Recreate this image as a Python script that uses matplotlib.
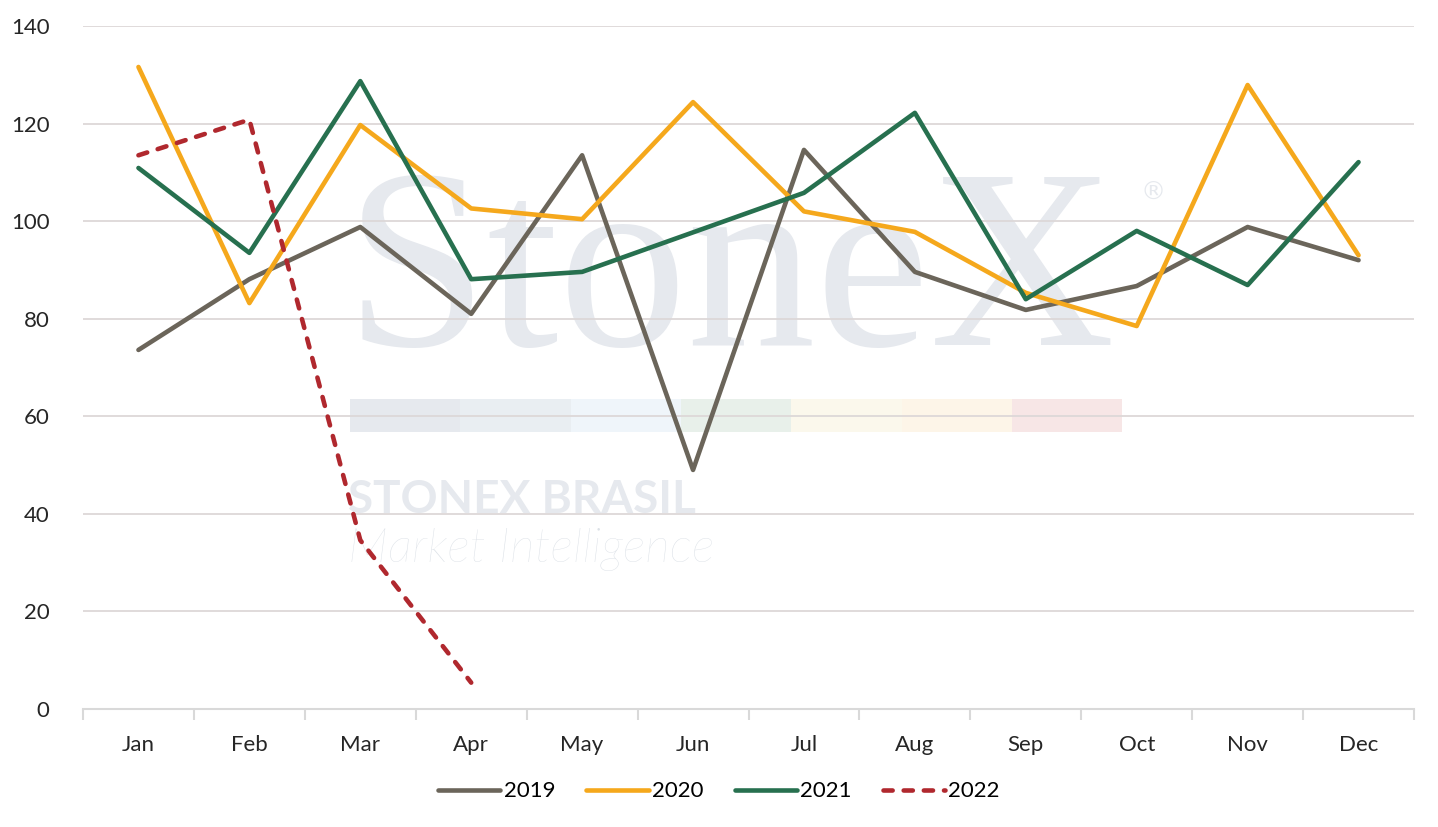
import numpy as np
import matplotlib
matplotlib.use("Agg")
import matplotlib.pyplot as plt
from matplotlib.patches import Rectangle

months = ["Jan", "Feb", "Mar", "Apr", "May", "Jun", "Jul", "Aug", "Sep", "Oct", "Nov", "Dec"]
y2019 = [73.6, 88.1, 98.8, 81.0, 113.5, 49.0, 114.6, 89.6, 81.8, 86.7, 98.8, 92.0]
y2020 = [131.6, 83.2, 119.7, 102.6, 100.4, 124.4, 102.0, 97.8, 85.3, 78.5, 127.9, 93.0]
y2021 = [110.9, 93.5, 128.7, 88.1, 89.6, 97.7, 105.8, 122.2, 84.0, 98.0, 86.9, 112.1]
y2022 = [113.5, 120.8, 34.6, 5.4]
yticks = [0, 20, 40, 60, 80, 100, 120, 140]

plt.rcParams["font.family"] = ["Lato", "DejaVu Sans"]

fig = plt.figure(figsize=(14.38, 8.27), dpi=100)
ax = fig.add_axes([83 / 1438, 118 / 827, 1331 / 1438, 683 / 827])

# faint StoneX watermark, placed in axes fraction (from pixel positions)
def px(xp, yp):
    return (xp - 83) / 1331, (709 - yp) / 683

wm = "#e6e9ee"
ax.text(*px(345, 345), "StoneX", transform=ax.transAxes, fontsize=185,
        family="Liberation Serif", color=wm, ha="left", va="baseline", zorder=0.1)
ax.text(*px(1140, 200), "®", transform=ax.transAxes, fontsize=18,
        family="DejaVu Sans", color=wm, ha="left", va="baseline", zorder=0.1)
bar_cols = ["#e6e9ee", "#e9eef2", "#eff5fa", "#e8f0ea", "#fbf8ec", "#fdf5e8", "#f7e6e6"]
for i, c in enumerate(bar_cols):
    x0, y0 = px(350 + i * 110.3, 432)
    ax.add_patch(Rectangle((x0, y0), 110.3 / 1331, 33 / 683, transform=ax.transAxes,
                           facecolor=c, edgecolor="none", zorder=0.1))
ax.text(*px(348, 513), "STONEX BRASIL", transform=ax.transAxes, fontsize=33,
        fontweight="bold", color=wm, ha="left", va="baseline", zorder=0.1)
ax.text(*px(348, 562), "Market Intelligence", transform=ax.transAxes, fontsize=35,
        fontstyle="italic", fontweight="light", color="#dce1e7", ha="left",
        va="baseline", zorder=0.1)

x = np.arange(len(months))
lw = 3.3
ax.plot(x, y2019, color="#6b655a", lw=lw, label="2019", solid_capstyle="round", zorder=3)
ax.plot(x, y2020, color="#f5a81c", lw=lw, label="2020", solid_capstyle="round", zorder=3)
ax.plot(x, y2021, color="#27704f", lw=lw, label="2021", solid_capstyle="round", zorder=3)
ax.plot(x[:len(y2022)], y2022, color="#b0282e", lw=lw, label="2022",
        linestyle=(0, (2.0, 2.4)), dash_capstyle="round", zorder=3)

ax.set_xlim(-0.5, 11.5)
ax.set_ylim(0, 140)
ax.set_yticks(yticks)
ax.set_xticks(x)
ax.set_xticklabels(months)
ax.set_xticks(np.arange(-0.5, 12, 1), minor=True)
ax.tick_params(axis="x", which="major", length=0, pad=19, labelsize=16, labelcolor="#262626")
ax.tick_params(axis="x", which="minor", length=8, width=1.5, color="#d9d9d9")
ax.tick_params(axis="y", length=0, pad=24, labelsize=16, labelcolor="#262626")
ax.yaxis.grid(True, color="#ddd8d8", lw=1.3)
ax.set_axisbelow(True)
for s in ["top", "right", "left"]:
    ax.spines[s].set_visible(False)
ax.spines["bottom"].set_color("#d9d9d9")
ax.spines["bottom"].set_linewidth(1.5)

fig.legend(loc="center", bbox_to_anchor=(0.5, 0.043), ncol=4, frameon=False,
           fontsize=16, handlelength=2.8, handletextpad=0.15, columnspacing=1.4)

fig.savefig("out.png", dpi=100)
